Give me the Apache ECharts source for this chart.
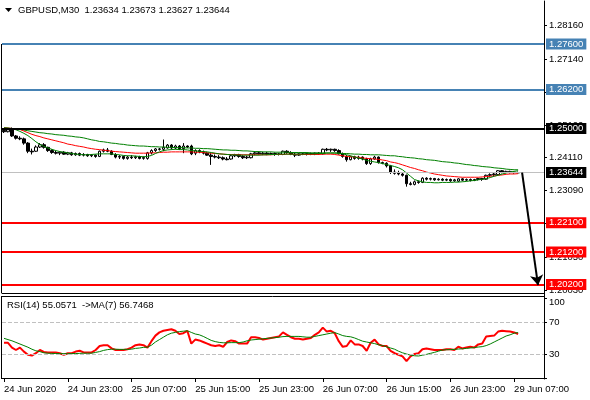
<!DOCTYPE html>
<html>
<head>
<meta charset="utf-8">
<script src="https://cdn.jsdelivr.net/npm/echarts@6.0.0/dist/echarts.min.js"></script>
<style>
  body { margin: 0; background: #fff; }
  #chart { width: 590px; height: 400px; }
</style>
</head>
<body>
<div id="chart"></div>
<script>
// GBPUSD M30 bars, 24 Jun 15:00 .. 29 Jun 07:30
var open = [1.2494,1.2490,1.2497,1.2477,1.2470,1.2468,1.2455,1.2430,1.2430,1.2443,
  1.2450,1.2442,1.2432,1.2426,1.2424,1.2427,1.2421,1.2425,1.2419,1.2423,
  1.2418,1.2420,1.2416,1.2418,1.2414,1.2430,1.2434,1.2430,1.2420,1.2412,
  1.2414,1.2408,1.2412,1.2410,1.2413,1.2408,1.2408,1.2425,1.2432,1.2437,
  1.2436,1.2440,1.2449,1.2440,1.2446,1.2438,1.2446,1.2446,1.2424,1.2432,
  1.2428,1.2424,1.2418,1.2414,1.2412,1.2410,1.2406,1.2406,1.2416,1.2419,
  1.2414,1.2410,1.2410,1.2422,1.2425,1.2422,1.2424,1.2421,1.2423,1.2420,
  1.2420,1.2430,1.2426,1.2421,1.2418,1.2422,1.2420,1.2423,1.2421,1.2424,
  1.2422,1.2436,1.2434,1.2436,1.2432,1.2422,1.2414,1.2404,1.2413,1.2408,
  1.2412,1.2406,1.2392,1.2406,1.2412,1.2395,1.2393,1.2385,1.2366,1.2362,
  1.2360,1.2356,1.2330,1.2328,1.2336,1.2334,1.2347,1.2344,1.2346,1.2342,
  1.2344,1.2341,1.2343,1.2339,1.2338,1.2345,1.2341,1.2343,1.2340,1.2343,
  1.2346,1.2344,1.2356,1.2358,1.2358,1.2370,1.2365,1.2368,1.2364,1.23634];
var high = [1.2500,1.2499,1.2503,1.2480,1.2476,1.2472,1.2458,1.2438,1.2448,1.2455,
  1.2455,1.2444,1.2436,1.2432,1.2430,1.2430,1.2428,1.2428,1.2426,1.2426,
  1.2424,1.2422,1.2421,1.2420,1.2432,1.2438,1.2440,1.2433,1.2424,1.2418,
  1.2416,1.2416,1.2418,1.2416,1.2416,1.2414,1.2428,1.2436,1.2440,1.2440,
  1.2466,1.2452,1.2452,1.2450,1.2449,1.2455,1.2448,1.2450,1.2436,1.2436,
  1.2432,1.2428,1.2424,1.2420,1.2418,1.2414,1.2412,1.2420,1.2422,1.2422,
  1.2418,1.2416,1.2425,1.2428,1.2428,1.2428,1.2428,1.2426,1.2426,1.2425,
  1.2432,1.2433,1.2430,1.2426,1.2424,1.2426,1.2426,1.2426,1.2426,1.2427,
  1.2438,1.2440,1.2438,1.2438,1.2436,1.2426,1.2418,1.2416,1.2416,1.2416,
  1.2414,1.2410,1.2410,1.2416,1.2414,1.2398,1.2396,1.2388,1.2374,1.2370,
  1.2364,1.2358,1.2336,1.2340,1.2340,1.2350,1.2350,1.2349,1.2348,1.2347,
  1.2347,1.2346,1.2346,1.2345,1.2347,1.2347,1.2346,1.2346,1.2345,1.2348,
  1.2348,1.2358,1.2362,1.2363,1.2372,1.2372,1.2370,1.2370,1.2369,1.23673];
var low = [1.2486,1.2488,1.2474,1.2466,1.2464,1.2450,1.2424,1.2420,1.2428,1.2440,
  1.2438,1.2428,1.2422,1.2420,1.2418,1.2419,1.2418,1.2416,1.2416,1.2415,
  1.2414,1.2413,1.2412,1.2410,1.2412,1.2426,1.2427,1.2418,1.2408,1.2406,
  1.2404,1.2404,1.2406,1.2406,1.2405,1.2404,1.2404,1.2420,1.2428,1.2432,
  1.2430,1.2438,1.2435,1.2436,1.2434,1.2424,1.2440,1.2418,1.2418,1.2424,
  1.2420,1.2416,1.2388,1.2408,1.2406,1.2402,1.2402,1.2404,1.2412,1.2410,
  1.2406,1.2406,1.2408,1.2418,1.2420,1.2418,1.2418,1.2418,1.2416,1.2417,
  1.2418,1.2422,1.2418,1.2412,1.2416,1.2418,1.2417,1.2418,1.2418,1.2419,
  1.2420,1.2430,1.2428,1.2428,1.2420,1.2410,1.2398,1.2402,1.2404,1.2404,
  1.2402,1.2388,1.2388,1.2404,1.2392,1.2390,1.2380,1.2360,1.2358,1.2356,
  1.2352,1.2321,1.2325,1.2325,1.2330,1.2332,1.2340,1.2340,1.2339,1.2340,
  1.2338,1.2338,1.2336,1.2336,1.2335,1.2338,1.2338,1.2337,1.2338,1.2340,
  1.2339,1.2342,1.2352,1.2354,1.2356,1.2362,1.2362,1.2362,1.2361,1.23627];
var close = [1.2490,1.2496,1.2477,1.2470,1.2468,1.2455,1.2430,1.2428,1.2443,1.2450,
  1.2442,1.2432,1.2426,1.2424,1.2427,1.2421,1.2425,1.2419,1.2423,1.2418,
  1.2420,1.2416,1.2418,1.2414,1.2430,1.2434,1.2430,1.2420,1.2412,1.2414,
  1.2408,1.2412,1.2410,1.2413,1.2408,1.2411,1.2425,1.2432,1.2437,1.2436,
  1.2442,1.2449,1.2440,1.2446,1.2438,1.2446,1.2443,1.2422,1.2432,1.2428,
  1.2424,1.2418,1.2414,1.2412,1.2410,1.2406,1.2404,1.2416,1.2419,1.2414,
  1.2410,1.2412,1.2422,1.2425,1.2422,1.2424,1.2421,1.2423,1.2420,1.2422,
  1.2430,1.2426,1.2421,1.2418,1.2422,1.2420,1.2423,1.2421,1.2424,1.2422,
  1.2436,1.2434,1.2436,1.2432,1.2422,1.2414,1.2404,1.2413,1.2408,1.2412,
  1.2406,1.2392,1.2406,1.2412,1.2395,1.2393,1.2385,1.2366,1.2362,1.2360,
  1.2356,1.2330,1.2328,1.2336,1.2334,1.2347,1.2344,1.2346,1.2342,1.2344,
  1.2341,1.2343,1.2339,1.2342,1.2345,1.2341,1.2343,1.2340,1.2343,1.2346,
  1.2344,1.2356,1.2358,1.2360,1.2370,1.2365,1.2368,1.2364,1.2366,1.23644];

// moving averages on price (slow green, red, fast green)
var maSlow = [1.2502,1.2501,1.2500,1.2499,1.2497,1.2495,1.2493,1.2491,1.2489,1.2487,
  1.2486,1.2484,1.2483,1.2481,1.2480,1.2479,1.2477,1.2476,1.2474,1.2473,
  1.2471,1.2468,1.2465,1.2463,1.2460,1.2459,1.2457,1.2455,1.2454,1.2452,
  1.2451,1.2449,1.2448,1.2447,1.2446,1.2446,1.2445,1.2444,1.2444,1.2443,
  1.2443,1.2442,1.2442,1.2441,1.2441,1.2441,1.2440,1.2440,1.2439,1.2439,
  1.2438,1.2438,1.2437,1.2436,1.2435,1.2434,1.2434,1.2433,1.2433,1.2432,
  1.2431,1.2431,1.2430,1.2429,1.2429,1.2428,1.2428,1.2428,1.2427,1.2427,
  1.2427,1.2427,1.2426,1.2426,1.2426,1.2426,1.2426,1.2425,1.2425,1.2425,
  1.2425,1.2425,1.2424,1.2424,1.2424,1.2423,1.2423,1.2422,1.2421,1.2421,
  1.2420,1.2420,1.2419,1.2419,1.2419,1.2418,1.2417,1.2416,1.2416,1.2414,
  1.2413,1.2411,1.2410,1.2409,1.2407,1.2406,1.2404,1.2403,1.2402,1.2400,
  1.2398,1.2397,1.2396,1.2394,1.2393,1.2391,1.2389,1.2388,1.2386,1.2385,
  1.2383,1.2382,1.2381,1.2379,1.2378,1.2377,1.2375,1.2374,1.2373,1.2373];
var maMid = [1.2502,1.2501,1.2500,1.2499,1.2497,1.2492,1.2487,1.2482,1.2478,1.2475,
  1.2471,1.2468,1.2465,1.2462,1.2459,1.2456,1.2452,1.2450,1.2447,1.2445,
  1.2443,1.2440,1.2438,1.2436,1.2435,1.2433,1.2432,1.2430,1.2429,1.2428,
  1.2427,1.2426,1.2425,1.2424,1.2424,1.2424,1.2424,1.2425,1.2425,1.2426,
  1.2427,1.2427,1.2428,1.2428,1.2428,1.2428,1.2428,1.2428,1.2427,1.2427,
  1.2426,1.2425,1.2424,1.2423,1.2422,1.2421,1.2420,1.2420,1.2420,1.2419,
  1.2419,1.2419,1.2419,1.2419,1.2419,1.2419,1.2419,1.2419,1.2420,1.2420,
  1.2420,1.2421,1.2421,1.2420,1.2420,1.2420,1.2420,1.2420,1.2420,1.2420,
  1.2421,1.2421,1.2421,1.2420,1.2418,1.2416,1.2414,1.2413,1.2412,1.2411,
  1.2409,1.2408,1.2407,1.2406,1.2405,1.2403,1.2401,1.2397,1.2395,1.2392,
  1.2388,1.2384,1.2380,1.2377,1.2373,1.2370,1.2366,1.2363,1.2360,1.2358,
  1.2356,1.2354,1.2353,1.2352,1.2351,1.2350,1.2350,1.2350,1.2350,1.2350,
  1.2351,1.2352,1.2353,1.2354,1.2356,1.2357,1.2359,1.2360,1.2360,1.2361];
var maFast = [1.2502,1.2501,1.2499,1.2496,1.2491,1.2485,1.2478,1.2469,1.2459,1.2451,
  1.2445,1.2440,1.2436,1.2432,1.2429,1.2427,1.2425,1.2423,1.2421,1.2420,
  1.2419,1.2419,1.2420,1.2421,1.2422,1.2422,1.2422,1.2422,1.2420,1.2419,
  1.2417,1.2416,1.2416,1.2415,1.2414,1.2413,1.2414,1.2417,1.2423,1.2428,
  1.2432,1.2434,1.2435,1.2436,1.2435,1.2435,1.2434,1.2432,1.2431,1.2430,
  1.2429,1.2428,1.2426,1.2424,1.2422,1.2421,1.2420,1.2419,1.2419,1.2418,
  1.2418,1.2418,1.2418,1.2418,1.2418,1.2419,1.2419,1.2420,1.2420,1.2421,
  1.2421,1.2421,1.2421,1.2421,1.2421,1.2421,1.2422,1.2422,1.2422,1.2423,
  1.2423,1.2424,1.2425,1.2425,1.2424,1.2422,1.2419,1.2416,1.2412,1.2409,
  1.2406,1.2402,1.2399,1.2397,1.2395,1.2392,1.2389,1.2386,1.2383,1.2379,
  1.2373,1.2363,1.2353,1.2343,1.2339,1.2336,1.2334,1.2334,1.2333,1.2333,
  1.2334,1.2334,1.2334,1.2335,1.2335,1.2336,1.2337,1.2339,1.2340,1.2342,
  1.2344,1.2346,1.2349,1.2353,1.2356,1.2360,1.2363,1.2366,1.2368,1.2370];

// RSI(14) and its MA(7)
var rsi = [44,44,38,35,38,33,29,28,31,35,
  32.5,32,32,32,31,29,31,31,33,34,
  32,32,32,35,40,41,41,37,35,35,
  35,36,38,41,42,41,38,46,53,57,
  59,60,61,59,55,56,59,43,48,47,
  45,43,41,40,41,39,45,47,46,43,
  43,43,51,51,50,48,49,50,51,52,
  57,54,51,49,49,48,49,50,54,57,
  63,58,59,56,46,39,40,47,42,42,
  40,34,44,48,42,40,40,34,31,29,
  27,21,27,30,31,36,37,36,35,35,
  35,36,36,35,39,37,38,39,38,42,
  43,52,52.5,53,58,59,58.5,58,57,55.06];
var rsiMa = [49.6,48,46.5,44.5,42.5,40.5,38.5,36,34,33,
  31.5,31,30.8,30.6,30.5,30.4,30.4,30.5,30.6,30.8,
  31,31,31,32,33,34.5,35.5,36,36,35.8,
  35.8,35.8,36,37,37.5,38.3,38.5,41,45,48,
  51,54,56,57,58,58.5,59,57,55,54,
  52,49.5,47,45.5,44.5,44,44,44.2,44.2,44.2,
  45,46.5,47.5,48,48.5,49,49.5,50,50.5,51,
  51.7,52,52,52,52,51.5,51,51,52,53,
  54,55,56,56.7,55,53,52,51.5,50,48,
  46,45,44,43,41.5,40.5,39,37.5,36,33.5,
  31.5,30,28.5,27.8,27.5,28.5,29.5,30.8,32,33.5,
  35,35.3,35.5,35.8,36.2,36.5,37,37.5,38,38.7,
  39.2,40.5,42.5,45,47.5,50,52.5,54,56,56.75];

var timeLabels = ['24 Jun 2020','24 Jun 23:00','25 Jun 07:00','25 Jun 15:00','25 Jun 23:00',
  '26 Jun 07:00','26 Jun 15:00','26 Jun 23:00','29 Jun 07:00'];
var priceTicks = [1.28160,1.27140,1.26120,1.25100,1.24110,1.23090,1.22070,1.21050,1.20030];
var rsiTicks = [0,30,70,100];
var rsiLevels = [30,70];

var blueLevels = [1.276, 1.262];
var blackLevels = [1.25];
var redLevels = [1.221, 1.212, 1.202];
var lastPrice = 1.23644;
var arrowFrom = [130, 1.2364];
var arrowTo = [134, 1.2018];

var slots = 136;   // 130 bars + empty space on the right
var cats = [];
for (var i = 0; i < slots; i++) cats.push(String(i));
var candles = open.map(function (o, i) { return [o, close[i], low[i], high[i]]; });

var FONT = 'Liberation Sans, Arial, sans-serif';
var BLUE = '#4682b4', RED = '#ff0000', GREEN = '#008000';

function level(v, lineColor, boxColor, width) {
  return {
    yAxis: v,
    lineStyle: { color: lineColor, width: width, type: 'solid' },
    label: {
      show: true, position: 'end', distance: 2,
      formatter: v.toFixed(5),
      color: '#fff', backgroundColor: boxColor,
      fontFamily: FONT, fontSize: 9.5, lineHeight: 10,
      padding: [1, 3, 0, 3]
    }
  };
}

var levels = [];
blueLevels.forEach(function (v) { levels.push(level(v, BLUE, BLUE, 2)); });
blackLevels.forEach(function (v) { levels.push(level(v, '#000', '#000', 2)); });
redLevels.forEach(function (v) { levels.push(level(v, RED, RED, 2)); });
levels.push(level(lastPrice, '#c0c0c0', '#000', 1));

// RSI guide lines (dashed) plus an invisible line at 0 that only carries its label
var rsiMarks = rsiLevels.map(function (v) { return { yAxis: v }; });
rsiMarks.push({
  yAxis: rsiTicks[0],
  lineStyle: { opacity: 0 },
  label: {
    show: true, position: 'end', distance: 5, offset: [0, -6],
    formatter: '0', color: '#000', fontFamily: FONT, fontSize: 9.5
  }
});

var every16 = function (i) { return i % 16 === 0; };

var chart = echarts.init(document.getElementById('chart'), null, { renderer: 'canvas' });
chart.setOption({
  animation: false,
  backgroundColor: '#fff',
  textStyle: { fontFamily: FONT },
  grid: [
    { left: 2, right: 46, top: 1, height: 292 },
    { left: 2, right: 46, top: 296, height: 83 }
  ],
  xAxis: [
    {
      gridIndex: 0, type: 'category', data: cats, boundaryGap: true,
      axisLine: { lineStyle: { color: '#000', width: 1 } },
      axisTick: { show: false }, axisLabel: { show: false }, splitLine: { show: false }
    },
    {
      gridIndex: 1, type: 'category', data: cats, boundaryGap: true,
      axisLine: { lineStyle: { color: '#000', width: 1 } },
      axisTick: { show: true, alignWithLabel: true, interval: every16, length: 4, lineStyle: { color: '#000' } },
      axisLabel: {
        interval: every16, align: 'left', margin: 5,
        color: '#000', fontFamily: FONT, fontSize: 9.5,
        formatter: function (v, i) { return timeLabels[i / 16] || ''; }
      },
      splitLine: { show: false }
    }
  ],
  yAxis: [
    {
      gridIndex: 0, type: 'value', position: 'right', min: 1.1994, max: 1.2892,
      axisLine: { show: true, lineStyle: { color: '#000' } },
      axisTick: { show: true, customValues: priceTicks, length: 3, lineStyle: { color: '#000' } },
      axisLabel: {
        customValues: priceTicks, margin: 5, color: '#000', fontFamily: FONT, fontSize: 9.5,
        formatter: function (v) { return v.toFixed(5); }
      },
      splitLine: { show: false }
    },
    {
      gridIndex: 1, type: 'value', position: 'right', min: -1.25, max: 102.5,
      axisLine: { show: true, lineStyle: { color: '#000' } },
      axisTick: { show: true, customValues: rsiTicks, length: 3, lineStyle: { color: '#000' } },
      axisLabel: {
        // the 0 label is carried by the RSI markLine instead
        customValues: rsiTicks.filter(function (v) { return v > 0; }),
        margin: 5, color: '#000', fontFamily: FONT, fontSize: 9.5,
        formatter: function (v) {
          if (v === 100) return '{a|100}';
          return String(v);
        },
        rich: {
          a: { padding: [8, 0, 0, 0], fontSize: 9.5, fontFamily: FONT, color: '#000' }
        }
      },
      splitLine: { show: false }
    }
  ],
  series: [
    {
      name: 'levels', type: 'line', xAxisIndex: 0, yAxisIndex: 0, data: [], z: 1,
      markLine: { silent: true, symbol: 'none', precision: 5, data: levels }
    },
    {
      name: 'GBPUSD', type: 'candlestick', xAxisIndex: 0, yAxisIndex: 0,
      data: candles, barWidth: 3, z: 2,
      itemStyle: { color: '#fff', color0: '#000', borderColor: '#000', borderColor0: '#000', borderWidth: 1 }
    },
    {
      name: 'MA slow', type: 'line', xAxisIndex: 0, yAxisIndex: 0, data: maSlow, z: 3,
      showSymbol: false, lineStyle: { color: GREEN, width: 1 }
    },
    {
      name: 'MA mid', type: 'line', xAxisIndex: 0, yAxisIndex: 0, data: maMid, z: 3,
      showSymbol: false, lineStyle: { color: RED, width: 1 }
    },
    {
      name: 'MA fast', type: 'line', xAxisIndex: 0, yAxisIndex: 0, data: maFast, z: 3,
      showSymbol: false, lineStyle: { color: GREEN, width: 1 }
    },
    {
      name: 'arrow', type: 'line', xAxisIndex: 0, yAxisIndex: 0, data: [], z: 4,
      markLine: {
        silent: true, symbol: ['none', 'arrow'], symbolSize: 10, precision: 5,
        label: { show: false },
        lineStyle: { color: '#000', width: 2, type: 'solid' },
        data: [[{ coord: arrowFrom }, { coord: arrowTo }]]
      }
    },
    {
      name: 'RSI', type: 'line', xAxisIndex: 1, yAxisIndex: 1, data: rsi, z: 3,
      showSymbol: false, lineStyle: { color: RED, width: 2 },
      markLine: {
        silent: true, symbol: 'none', label: { show: false },
        lineStyle: { color: '#c0c0c0', width: 1, type: 'dashed' },
        data: rsiMarks
      }
    },
    {
      name: 'RSI MA', type: 'line', xAxisIndex: 1, yAxisIndex: 1, data: rsiMa, z: 4,
      showSymbol: false, lineStyle: { color: GREEN, width: 1 }
    }
  ],
  graphic: [
    { type: 'polygon', shape: { points: [[5, 8], [12, 8], [8.5, 12]] }, style: { fill: '#000' } },
    { type: 'text', x: 18, y: 10, style: { text: 'GBPUSD,M30  1.23634 1.23673 1.23627 1.23644', fill: '#000', font: '9.5px ' + FONT, textVerticalAlign: 'middle' } },
    { type: 'text', x: 7, y: 305, style: { text: 'RSI(14) 55.0571  ->MA(7) 56.7468', fill: '#000', font: '9.5px ' + FONT, textVerticalAlign: 'middle' } },
    { type: 'line', shape: { x1: 1.5, y1: 44, x2: 1.5, y2: 293 }, style: { stroke: '#000', lineWidth: 1 } },
    { type: 'line', shape: { x1: 1.5, y1: 296, x2: 1.5, y2: 379 }, style: { stroke: '#000', lineWidth: 1 } },
    { type: 'line', shape: { x1: 1, y1: 296.5, x2: 544, y2: 296.5 }, style: { stroke: '#000', lineWidth: 1 } },
    { type: 'line', shape: { x1: 544.5, y1: 293, x2: 544.5, y2: 297 }, style: { stroke: '#000', lineWidth: 1 } }
  ]
});
</script>
</body>
</html>
